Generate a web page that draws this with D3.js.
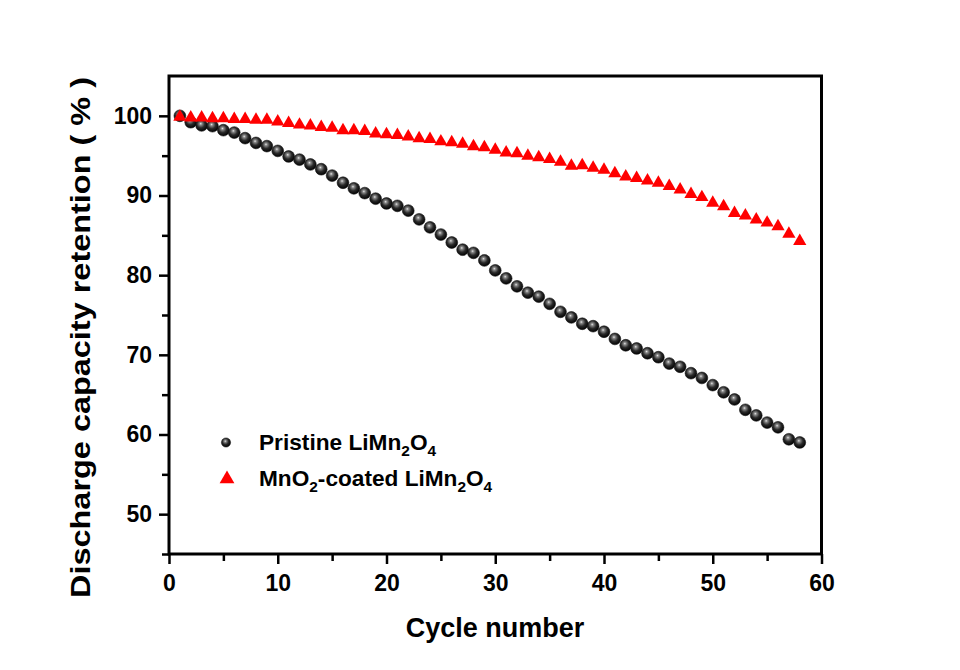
<!DOCTYPE html>
<html>
<head>
<meta charset="utf-8">
<script src="https://cdn.jsdelivr.net/npm/d3@7"></script>
<style>
  html, body { margin: 0; padding: 0; background: #fff; }
  svg { display: block; }
  text { font-family: Arial, "Liberation Sans", Helvetica, sans-serif; font-weight: bold; fill: #000; }
</style>
</head>
<body>
<svg id="chart" width="960" height="670"></svg>
<script>
// ---- data ----
const cycles = [1,2,3,4,5,6,7,8,9,10,11,12,13,14,15,16,17,18,19,20,21,22,23,24,25,26,27,28,29,30,
  31,32,33,34,35,36,37,38,39,40,41,42,43,44,45,46,47,48,49,50,51,52,53,54,55,56,57,58];
const pristine = [100.0, 99.2, 98.8, 98.7, 98.2, 97.9, 97.2, 96.6, 96.2, 95.6,
  94.9, 94.5, 93.9, 93.3, 92.5, 91.6, 90.9, 90.3, 89.6, 89.0,
  88.7, 88.1, 87.0, 86.0, 85.1, 84.1, 83.2, 82.8, 81.85, 80.6,
  79.6, 78.6, 77.8, 77.3, 76.4, 75.4, 74.7, 73.9, 73.6, 72.9,
  72.0, 71.2, 70.8, 70.2, 69.7, 68.9, 68.5, 67.7, 67.1, 66.2,
  65.3, 64.4, 63.1, 62.4, 61.5, 60.9, 59.4, 59.0];
const coated = [100.0, 99.9, 99.9, 99.8, 99.8, 99.7, 99.7, 99.6, 99.6, 99.4,
  99.2, 99.0, 98.9, 98.7, 98.6, 98.3, 98.3, 98.2, 97.9, 97.8,
  97.7, 97.5, 97.3, 97.2, 96.9, 96.8, 96.6, 96.3, 96.15, 95.85,
  95.5, 95.4, 95.1, 94.9, 94.7, 94.35, 93.85, 93.9, 93.6, 93.35,
  92.9, 92.5, 92.3, 92.0, 91.7, 91.3, 90.85, 90.3, 89.9, 89.2,
  88.75, 87.9, 87.6, 87.1, 86.7, 86.25, 85.3, 84.4];
const xMajorTicks = [0, 10, 20, 30, 40, 50, 60];
const xMinorTicks = [5, 15, 25, 35, 45, 55];
const yMajorTicks = [50, 60, 70, 80, 90, 100];
const yMinorTicks = [45, 55, 65, 75, 85, 95];
const xTitle = "Cycle number";
const yTitle = "Discharge capacity retention ( % )";

// ---- layout ----
const svg = d3.select("#chart");
const L = 169, R = 821.5, T = 76, B = 554;
const x = d3.scaleLinear().domain([0, 60]).range([L, R]);
const y = d3.scaleLinear().domain([45, 105]).range([B, T]);

// defs: sphere gradient
const defs = svg.append("defs");
const grad = defs.append("radialGradient").attr("id", "sphere")
  .attr("cx", "45%").attr("cy", "40%").attr("r", "60%").attr("fx", "42%").attr("fy", "35%");
grad.append("stop").attr("offset", "0%").attr("stop-color", "#e8e8e8");
grad.append("stop").attr("offset", "18%").attr("stop-color", "#8a8a8a");
grad.append("stop").attr("offset", "55%").attr("stop-color", "#2a2a2a");
grad.append("stop").attr("offset", "100%").attr("stop-color", "#000");

// axes
function styleAxis(g) {
  g.select(".domain").remove();
  g.selectAll(".tick line").attr("stroke", "#000").attr("stroke-width", 2.5);
  g.selectAll("text").style("font-size", "23px").style("font-weight", "bold").attr("fill", "#000");
}
const gx = svg.append("g").attr("transform", `translate(0,${B})`)
  .call(d3.axisBottom(x).tickValues(xMajorTicks).tickSize(10).tickPadding(11).tickSizeOuter(0).tickFormat(d3.format("d")));
styleAxis(gx);
const gxm = svg.append("g").attr("transform", `translate(0,${B})`)
  .call(d3.axisBottom(x).tickValues(xMinorTicks).tickSize(7).tickSizeOuter(0).tickFormat(null));
gxm.selectAll("text").remove();
styleAxis(gxm);
const gy = svg.append("g").attr("transform", `translate(${L},0)`)
  .call(d3.axisLeft(y).tickValues(yMajorTicks).tickSize(10).tickPadding(7).tickSizeOuter(0).tickFormat(d3.format("d")));
styleAxis(gy);
const gym = svg.append("g").attr("transform", `translate(${L},0)`)
  .call(d3.axisLeft(y).tickValues(yMinorTicks).tickSize(7).tickSizeOuter(0));
gym.selectAll("text").remove();
styleAxis(gym);

// frame
svg.append("rect").attr("x", L).attr("y", T).attr("width", R - L).attr("height", B - T)
  .attr("fill", "none").attr("stroke", "#000").attr("stroke-width", 3);

// data marks
const triSym = d3.symbol().type(d3.symbolTriangle);
svg.append("g").selectAll("circle").data(cycles).join("circle")
  .attr("cx", (d) => x(d)).attr("cy", (d, i) => y(pristine[i])).attr("r", 5.9)
  .attr("fill", "url(#sphere)").attr("stroke", "#111").attr("stroke-width", 0.6);
svg.append("g").selectAll("path").data(cycles).join("path")
  .attr("d", triSym.size(76)())
  .attr("transform", (d, i) => `translate(${x(d)},${y(coated[i]) + 1})`)
  .attr("fill", "#ff0000");

// legend
const leg = svg.append("g");
leg.append("circle").attr("cx", 226).attr("cy", 442.5).attr("r", 4.6)
  .attr("fill", "url(#sphere)").attr("stroke", "#111").attr("stroke-width", 0.5);
leg.append("path").attr("d", triSym.size(95)()).attr("transform", "translate(227,479)").attr("fill", "#ff0000");
function subText(xp, yp, parts, targetW) {
  const g = leg.append("g");
  const t = g.append("text").attr("x", xp).attr("y", yp).style("font-size", "22px");
  let prevSub = false;
  parts.forEach(([s, sub]) => {
    const ts = t.append("tspan").text(s);
    if (sub) {
      ts.attr("dy", prevSub ? 0 : 6).style("font-size", "15px");
    } else if (prevSub) {
      ts.attr("dy", -6);
    }
    prevSub = !!sub;
  });
  const w = t.node().getBBox().width;
  const k = targetW / w;
  g.attr("transform", `translate(${xp},0) scale(${k},1) translate(${-xp},0)`);
}
subText(259, 450, [["Pristine LiMn"], ["2", true], ["O"], ["4", true]], 178);
subText(259, 486, [["MnO"], ["2", true], ["-coated LiMn"], ["2", true], ["O"], ["4", true]], 234);

// titles
svg.append("text").attr("x", (403 + 587) / 2).attr("y", 637).attr("text-anchor", "middle")
  .style("font-size", "27px").text(xTitle);
svg.append("text").attr("transform", "translate(90,337.5) rotate(-90)").attr("text-anchor", "middle")
  .attr("textLength", 521).attr("lengthAdjust", "spacingAndGlyphs")
  .style("font-size", "27px").text(yTitle);
</script>
</body>
</html>
